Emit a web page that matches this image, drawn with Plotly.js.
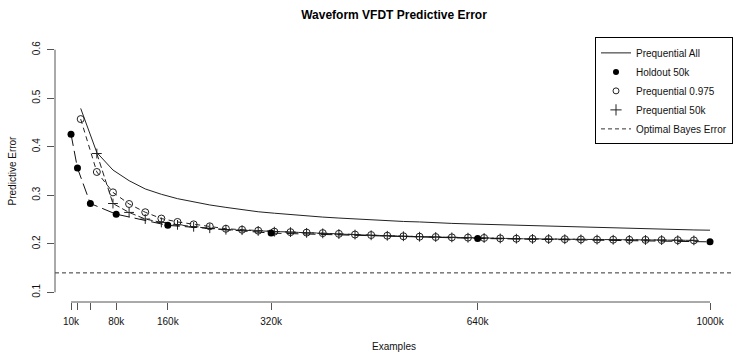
<!DOCTYPE html>
<html>
<head>
<meta charset="utf-8">
<script src="https://cdn.plot.ly/plotly-3.0.1.min.js"></script>
<style>html,body{margin:0;padding:0;overflow:hidden;background:#fff}#chart{width:733px;height:352px}</style>
</head>
<body>
<div id="chart"></div>
<script>
// ---- data ----
const holdoutX = [10000, 20000, 40000, 80000, 160000, 320000, 640000, 1000000];
const holdoutY = [0.426, 0.356, 0.283, 0.261, 0.238, 0.222, 0.211, 0.204];

const prequentialAllX = [25000,50000,75000,100000,125000,150000,175000,200000,225000,250000,
  275000,300000,325000,350000,375000,400000,425000,450000,475000,500000,
  525000,550000,575000,600000,625000,650000,675000,700000,725000,750000,
  775000,800000,825000,850000,875000,900000,925000,950000,975000,1000000];
const prequentialAllY = [0.479,0.388,0.352,0.330,0.313,0.302,0.293,0.286,0.280,0.275,
  0.270,0.266,0.263,0.260,0.257,0.255,0.253,0.251,0.249,0.247,
  0.246,0.245,0.243,0.242,0.241,0.240,0.239,0.238,0.237,0.236,
  0.235,0.234,0.233,0.232,0.231,0.230,0.2295,0.229,0.2285,0.228];

const prequentialFadeX = [25000,50000,75000,100000,125000,150000,175000,200000,225000,250000,
  275000,300000,325000,350000,375000,400000,425000,450000,475000,500000,
  525000,550000,575000,600000,625000,650000,675000,700000,725000,750000,
  775000,800000,825000,850000,875000,900000,925000,950000,975000];
const prequentialFadeY = [0.457,0.348,0.306,0.282,0.265,0.252,0.245,0.240,0.236,0.231,
  0.229,0.227,0.225,0.224,0.223,0.222,0.2205,0.219,0.218,0.2166,
  0.2155,0.2146,0.2139,0.2132,0.2127,0.212,0.2111,0.2104,0.2102,0.2097,
  0.2095,0.209,0.2086,0.2084,0.2082,0.208,0.2077,0.2074,0.207];

const prequentialWinX = [50000,75000,100000,125000,150000,175000,200000,225000,250000,
  275000,300000,325000,350000,375000,400000,425000,450000,475000,500000,
  525000,550000,575000,600000,625000,650000,675000,700000,725000,750000,
  775000,800000,825000,850000,875000,900000,925000,950000,975000];
const prequentialWinY = [0.386,0.283,0.2646,0.251,0.244,0.239,0.235,0.232,0.229,
  0.228,0.2265,0.225,0.224,0.2225,0.2215,0.220,0.219,0.2175,0.2165,
  0.2155,0.2145,0.214,0.2132,0.2125,0.212,0.211,0.2105,0.210,0.2097,
  0.2094,0.209,0.2086,0.2083,0.208,0.2078,0.2076,0.2073,0.207];

const bayesError = 0.14;

const xTickVals = [10000, 20000, 40000, 80000, 160000, 320000, 640000, 1000000];
const xTickText = ['10k', '', '', '80k', '160k', '320k', '640k', '1000k'];
const yTickVals = [0.1, 0.2, 0.3, 0.4, 0.5, 0.6];
const yTickText = ['0.1', '0.2', '0.3', '0.4', '0.5', '0.6'];

const names = ['Prequential All', 'Holdout 50k', 'Prequential 0.975', 'Prequential 50k', 'Optimal Bayes Error'];

// ---- chart ----
const FONT = 'Liberation Sans, Arial, Helvetica, sans-serif';
const INK = '#111';

const traces = [
  {x: prequentialAllX, y: prequentialAllY, mode: 'lines', showlegend: false,
   line: {color: '#222', width: 1}},
  {x: prequentialFadeX, y: prequentialFadeY, mode: 'lines+markers', showlegend: false,
   line: {color: '#222', width: 1, dash: '5px,4px'},
   marker: {symbol: 'circle-open', size: 7, color: '#222', line: {width: 1, color: '#222'}}},
  {x: prequentialWinX, y: prequentialWinY, mode: 'lines+markers', showlegend: false,
   line: {color: '#222', width: 1, dash: '6px,3px'},
   marker: {symbol: 'cross-thin-open', size: 7, color: '#222', line: {width: 1, color: '#222'}}},
  {x: holdoutX, y: holdoutY, mode: 'lines+markers', showlegend: false,
   line: {color: '#111', width: 1, dash: '12px,5px'},
   marker: {symbol: 'circle', size: 7, color: '#000'}},
  // legend entries
  {x: [null], y: [null], mode: 'lines', name: names[0], line: {color: '#222', width: 1}},
  {x: [null], y: [null], mode: 'markers', name: names[1], marker: {symbol: 'circle', size: 6, color: '#000'}},
  {x: [null], y: [null], mode: 'markers', name: names[2], marker: {symbol: 'circle-open', size: 6, color: '#222', line: {width: 1}}},
  {x: [null], y: [null], mode: 'markers', name: names[3], marker: {symbol: 'cross-thin-open', size: 8, color: '#222', line: {width: 1, color: '#222'}}},
  {x: [null], y: [null], mode: 'lines', name: names[4], line: {color: '#333', width: 1, dash: '4px,3px'}}
];

const layout = {
  width: 733, height: 352,
  margin: {l: 55, r: 0, t: 40, b: 50, pad: 0},
  paper_bgcolor: '#fff', plot_bgcolor: '#fff',
  font: {family: FONT, size: 10, color: INK},
  title: {text: 'Waveform VFDT Predictive Error', font: {family: FONT, size: 12, weight: 'bold', color: '#000'},
          x: 0.5, xref: 'paper', xanchor: 'center', y: 1 - 15/352, yref: 'container', yanchor: 'middle'},
  xaxis: {range: [-14800, 1035600], showgrid: false, zeroline: false, showline: false,
          tickmode: 'array', tickvals: xTickVals, ticktext: xTickText,
          ticks: 'outside', ticklen: 7, tickwidth: 1, tickcolor: '#555',
          tickfont: {family: FONT, size: 10, color: INK}, ticklabelstandoff: 3,
          title: {text: 'Examples', font: {family: FONT, size: 10, color: INK}, standoff: 16}},
  yaxis: {range: [0.08, 0.62], showgrid: false, zeroline: false, showline: false,
          tickmode: 'array', tickvals: yTickVals, ticktext: yTickText, tickangle: -90,
          ticks: 'outside', ticklen: 7, tickwidth: 1, tickcolor: '#555',
          tickfont: {family: FONT, size: 10, color: INK}, ticklabelstandoff: 3,
          title: {text: 'Predictive Error', font: {family: FONT, size: 10, color: INK}, standoff: 12}},
  shapes: [
    {type: 'line', xref: 'paper', x0: 0, x1: 0, yref: 'y', y0: yTickVals[0], y1: yTickVals[yTickVals.length - 1],
     line: {color: '#555', width: 1}},
    {type: 'line', xref: 'x', x0: xTickVals[0], x1: xTickVals[xTickVals.length - 1], yref: 'paper', y0: 0, y1: 0,
     line: {color: '#555', width: 1}},
    {type: 'line', xref: 'paper', x0: 0, x1: 1, yref: 'y', y0: bayesError, y1: bayesError,
     line: {color: '#333', width: 1, dash: '4px,3px'}, layer: 'below'}
  ],
  legend: {x: 1, y: 1.01, xref: 'paper', yref: 'paper', xanchor: 'right', yanchor: 'top',
           bgcolor: '#fff', bordercolor: '#000', borderwidth: 1,
           font: {family: FONT, size: 10, color: INK}, itemwidth: 30, tracegroupgap: 0},
  showlegend: true
};

Plotly.newPlot('chart', traces, layout, {displayModeBar: false, staticPlot: true});
</script>
</body>
</html>
